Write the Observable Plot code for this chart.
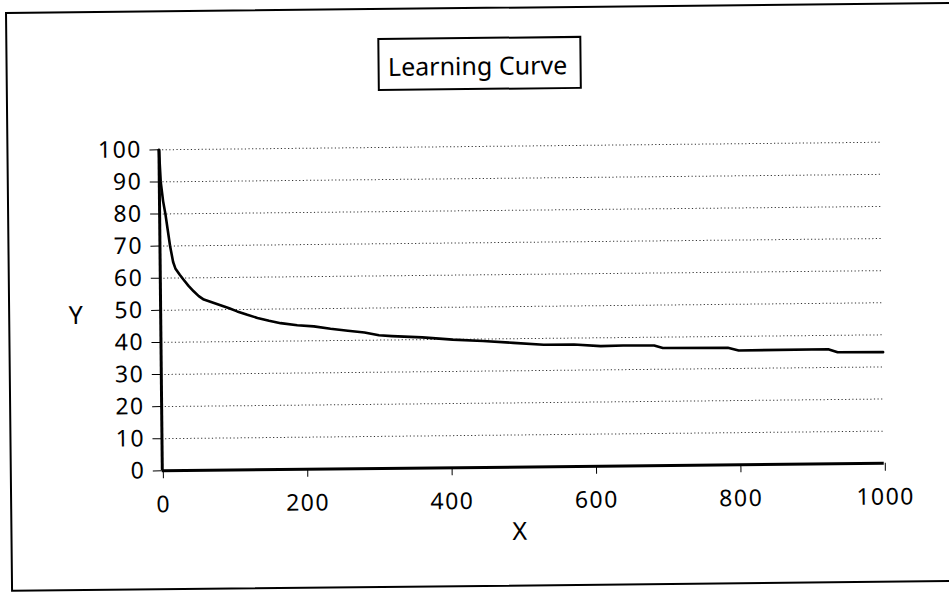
<!DOCTYPE html>
<html>
<head>
<meta charset="utf-8">
<script src="https://cdn.jsdelivr.net/npm/d3@7"></script>
<script src="https://cdn.jsdelivr.net/npm/@observablehq/plot@0.6"></script>
<style>
  html, body { margin: 0; padding: 0; background: #fff; }
  #sheet {
    position: relative;
    width: 949px;
    height: 592px;
    overflow: visible;
    transform: rotate(-0.6deg);
    transform-origin: 474.5px 296px;
    font-family: "Noto Sans", sans-serif;
    color: #000;
  }
  #border {
    position: absolute;
    left: 8px; top: 7px;
    width: 946px; height: 580px;
    border: 2.5px solid #000;
    box-sizing: border-box;
  }
  #title {
    position: absolute;
    left: 380px; top: 37px;
    width: 204px; height: 53px;
    border: 2px solid #000;
    box-sizing: border-box;
    display: flex; align-items: center; justify-content: center;
    font-size: 25px;
    padding-top: 2px;
    padding-right: 4px;
    background: #fff;
  }
  #chart { position: absolute; left: 0; top: 0; }
  #chart g[aria-label="y-axis tick label"] text,
  #chart g[aria-label="x-axis tick label"] text { letter-spacing: 1.5px; }
</style>
</head>
<body>
<div id="sheet">
  <div id="border"></div>
  <div id="chart"></div>
  <div id="title">Learning Curve</div>
</div>
<script>
// Learning curve: trials (X) against cost per unit (Y)
const xs = [0, 2, 5, 8, 11, 14, 18, 21, 27, 32, 39, 46, 53, 60, 70, 83, 95, 106, 120, 134,
            150, 166, 189, 212, 235, 259, 282, 302, 320, 362, 404, 446, 488, 530, 572, 609,
            640, 683, 695, 785, 800, 924, 937, 1000];
const ys = [100, 90, 84, 80, 75, 70, 65, 63, 61, 59.5, 57.5, 55.8, 54.3, 53.2, 52.4, 51.4, 50.4, 49.4, 48.3, 47.3,
            46.4, 45.6, 44.9, 44.5, 43.7, 43.0, 42.4, 41.5, 41.2, 40.7, 39.9, 39.4, 38.7, 38.0, 38.0, 37.4,
            37.5, 37.4, 36.6, 36.5, 35.6, 35.7, 34.7, 34.6];

const xTicks = [0, 200, 400, 600, 800, 1000];
const yTicks = [0, 10, 20, 30, 40, 50, 60, 70, 80, 90, 100];
const xLabel = "X";
const yLabel = "Y";

const points = xs.map((x, i) => ({x, y: ys[i]}));

const chart = Plot.plot({
  width: 949,
  height: 592,
  marginLeft: 160,
  marginRight: 67,
  marginTop: 146,
  marginBottom: 125,
  style: {fontFamily: "'Noto Sans', sans-serif", background: "transparent", color: "#000", overflow: "visible"},
  x: {domain: [0, 1000]},
  y: {domain: [0, 100]},
  marks: [
    Plot.gridY(yTicks, {stroke: "#111", strokeOpacity: 0.85, strokeWidth: 1, strokeDasharray: "1.2,2.4"}),
    Plot.axisY(yTicks, {tickSize: 9, tickPadding: 8, fontSize: 23, label: null, stroke: "#000", tickFormat: d => String(d)}),
    Plot.axisX(xTicks, {tickSize: 8, tickPadding: 17, fontSize: 23, label: null, stroke: "#000", tickFormat: d => String(d), dx: 1}),
    Plot.ruleX([0], {y1: 0, y2: 100, stroke: "#000", strokeWidth: 3}),
    Plot.ruleY([0], {x1: 0, x2: 1000, stroke: "#000", strokeWidth: 3}),
    Plot.line(points, {x: "x", y: "y", stroke: "#000", strokeWidth: 2.6, strokeLinejoin: "round"}),
    Plot.text([yLabel], {frameAnchor: "left", y: 48.5, dx: -85, text: d => d, fontSize: 25, textAnchor: "middle", lineAnchor: "middle"}),
    Plot.text([xLabel], {frameAnchor: "bottom", x: 494, dy: 65, text: d => d, fontSize: 25, textAnchor: "middle", lineAnchor: "middle"})
  ]
});

document.getElementById("chart").appendChild(chart);
</script>
</body>
</html>
